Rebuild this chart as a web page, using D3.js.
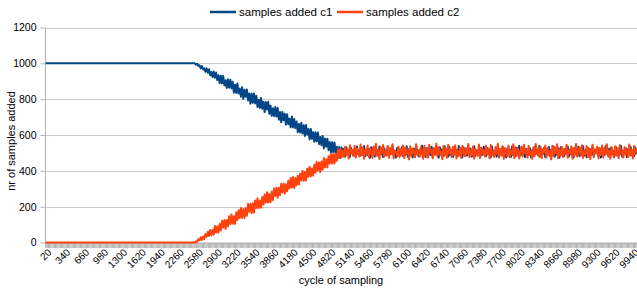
<!DOCTYPE html>
<html>
<head>
<meta charset="utf-8">
<script src="https://cdn.jsdelivr.net/npm/d3@7"></script>
<style>
    body { margin: 0; background: #fff; }
    text { font-family: 'Liberation Sans', Arial, sans-serif; fill: #000; }
</style>
</head>
<body>
<svg id="chart" width="637" height="291"></svg>
<script>
// cycles 20, 40, ... 10000 (one category per sample)
const cycles = d3.range(20, 10001, 20);

const xTickLabels = ['20', '340', '660', '980', '1300', '1620', '1940', '2260', '2580', '2900',
    '3220', '3540', '3860', '4180', '4500', '4820', '5140', '5460', '5780', '6100', '6420',
    '6740', '7060', '7380', '7700', '8020', '8340', '8660', '8980', '9300', '9620', '9940'];
const yTicks = [0, 200, 400, 600, 800, 1000, 1200];
const seriesNames = ['samples added c1', 'samples added c2'];

// c1 before the switch
const c1Flat = [
    1000, 1000, 1000, 1000, 1000, 1000, 1000, 1000, 1000, 1000, 1000, 1000, 1000, 1000, 1000, 1000, 1000, 1000,
    1000, 1000, 1000, 1000, 1000, 1000, 1000, 1000, 1000, 1000, 1000, 1000, 1000, 1000, 1000, 1000, 1000, 1000,
    1000, 1000, 1000, 1000, 1000, 1000, 1000, 1000, 1000, 1000, 1000, 1000, 1000, 1000, 1000, 1000, 1000, 1000,
    1000, 1000, 1000, 1000, 1000, 1000, 1000, 1000, 1000, 1000, 1000, 1000, 1000, 1000, 1000, 1000, 1000, 1000,
    1000, 1000, 1000, 1000, 1000, 1000, 1000, 1000, 1000, 1000, 1000, 1000, 1000, 1000, 1000, 1000, 1000, 1000,
    1000, 1000, 1000, 1000, 1000, 1000, 1000, 1000, 1000, 1000, 1000, 1000, 1000, 1000, 1000, 1000, 1000, 1000,
    1000, 1000, 1000, 1000, 1000, 1000, 1000, 1000, 1000, 1000, 1000, 1000, 1000, 1000, 1000, 1000, 1000, 1000];
// c1 while it falls (cycles 2540 - 5020)
const c1Fall = [
    1000, 992, 998, 986, 989, 972, 985, 966, 972, 953,
    972, 947, 967, 934, 952, 923, 954, 919, 949, 907,
    933, 890, 931, 889, 930, 877, 906, 863, 911, 864,
    909, 860, 897, 836, 881, 835, 888, 831, 859, 814,
    867, 802, 852, 813, 854, 793, 832, 775, 831, 780,
    832, 776, 819, 756, 795, 751, 806, 746, 786, 728,
    784, 742, 785, 718, 764, 707, 749, 705, 756, 703,
    751, 685, 728, 671, 729, 682, 718, 658, 716, 660,
    691, 643, 703, 642, 689, 639, 675, 616, 662, 614,
    669, 608, 655, 595, 656, 602, 633, 575, 634, 579,
    616, 562, 616, 565, 614, 549, 589, 543, 595, 525,
    580, 535, 579, 515, 561, 503, 560, 505, 558, 501,
    534, 485, 533, 472, 530];
// c1 after both settle (cycles 5040 - 10000), mostly hidden under c2
const c1Level = [
    492, 523, 479, 531, 498, 514, 476, 528, 503, 486,
    519, 478, 536, 494, 513, 485, 530, 490, 538, 482,
    509, 488, 522, 473, 532, 497, 516, 480, 528, 500,
    483, 536, 493, 519, 477, 525, 505, 488, 534, 479,
    515, 495, 539, 484, 511, 474, 529, 500, 521, 489,
    532, 481, 508, 491, 537, 478, 522, 496, 513, 475,
    525, 486, 535, 502, 482, 518, 494, 540, 485, 512,
    477, 528, 497, 516, 488, 535, 479, 510, 492, 524,
    503, 473, 531, 490, 521, 483, 537, 495, 514, 479,
    534, 487, 510, 477, 527, 499, 516, 482, 538, 493,
    517, 476, 530, 491, 507, 485, 533, 497, 523, 480,
    494, 537, 484, 513, 500, 526, 474, 520, 489, 534,
    510, 481, 528, 494, 516, 476, 536, 488, 512, 498,
    479, 531, 503, 521, 485, 534, 491, 508, 475, 525,
    499, 519, 477, 537, 488, 515, 482, 529, 496, 540,
    485, 510, 492, 532, 477, 522, 501, 490, 527, 476,
    516, 483, 535, 497, 509, 487, 538, 480, 519, 493,
    528, 476, 513, 500, 533, 484, 517, 491, 536, 479,
    506, 489, 525, 473, 531, 495, 513, 482, 522, 497,
    536, 479, 516, 491, 511, 475, 529, 500, 488, 534,
    482, 523, 494, 537, 486, 514, 476, 527, 498, 519,
    491, 535, 478, 510, 502, 530, 483, 520, 474, 532,
    515, 488, 537, 497, 522, 480, 528, 493, 512, 476,
    496, 531, 485, 517, 491, 539, 479, 510, 499, 526,
    477, 521, 489, 535, 503, 513, 481, 531, 494];

const c2Flat = [
    0, 0, 0, 0, 0, 0, 0, 0, 0, 0, 0, 0, 0, 0, 0, 0, 0, 0,
    0, 0, 0, 0, 0, 0, 0, 0, 0, 0, 0, 0, 0, 0, 0, 0, 0, 0,
    0, 0, 0, 0, 0, 0, 0, 0, 0, 0, 0, 0, 0, 0, 0, 0, 0, 0,
    0, 0, 0, 0, 0, 0, 0, 0, 0, 0, 0, 0, 0, 0, 0, 0, 0, 0,
    0, 0, 0, 0, 0, 0, 0, 0, 0, 0, 0, 0, 0, 0, 0, 0, 0, 0,
    0, 0, 0, 0, 0, 0, 0, 0, 0, 0, 0, 0, 0, 0, 0, 0, 0, 0,
    0, 0, 0, 0, 0, 0, 0, 0, 0, 0, 0, 0, 0, 0, 0, 0, 0, 0];
const c2Rise = [
    0, 7, 3, 19, 12, 29, 14, 34, 19, 47,
    32, 60, 36, 70, 41, 70, 44, 92, 56, 90,
    55, 104, 67, 121, 83, 126, 75, 126, 90, 146,
    103, 157, 104, 147, 104, 168, 125, 180, 137, 192,
    137, 187, 137, 192, 149, 215, 172, 216, 164, 219,
    167, 235, 193, 247, 192, 234, 195, 254, 212, 268,
    223, 281, 223, 270, 224, 285, 237, 301, 260, 306,
    250, 306, 265, 328, 280, 329, 273, 325, 285, 345,
    302, 360, 307, 365, 304, 360, 319, 373, 324, 384,
    347, 401, 344, 394, 346, 412, 367, 423, 369, 413,
    373, 435, 389, 450, 401, 447, 393, 452, 406, 471,
    419, 465, 419, 482, 441, 494, 440, 494, 441, 496,
    457, 520, 471, 525, 476];
const c2Level = [
    512, 478, 534, 489, 521, 470, 543, 497, 515, 482,
    538, 474, 526, 501, 480, 547, 488, 529, 468, 519,
    495, 541, 476, 523, 509, 472, 536, 490, 551, 484,
    517, 466, 532, 498, 544, 479, 511, 486, 539, 473,
    527, 492, 548, 469, 514, 503, 481, 535, 476, 520,
    487, 542, 471, 530, 496, 518, 464, 537, 483, 524,
    507, 475, 549, 491, 513, 478, 533, 499, 467, 540,
    485, 522, 474, 545, 502, 516, 470, 528, 489, 552,
    479, 531, 494, 510, 465, 538, 486, 525, 473, 546,
    498, 519, 477, 534, 490, 543, 469, 512, 484, 529,
    472, 540, 505, 481, 526, 493, 550, 476, 518, 488,
    536, 468, 521, 500, 483, 547, 474, 530, 496, 515,
    480, 539, 491, 524, 470, 544, 487, 509, 477, 533,
    495, 551, 473, 520, 486, 537, 466, 527, 501, 482,
    541, 476, 514, 492, 548, 471, 531, 485, 523, 469,
    506, 535, 480, 545, 497, 517, 474, 538, 489, 511,
    467, 529, 483, 550, 494, 522, 478, 536, 471, 519,
    503, 542, 475, 526, 488, 511, 464, 540, 482, 532,
    497, 548, 470, 518, 485, 534, 477, 523, 492, 545,
    473, 514, 499, 537, 468, 528, 487, 550, 479, 516,
    530, 484, 543, 472, 509, 493, 539, 476, 525, 466,
    513, 546, 481, 521, 498, 535, 470, 527, 488, 541,
    475, 518, 494, 549, 483, 512, 467, 533, 501, 479,
    537, 486, 524, 471, 544, 496, 510, 474, 531, 490,
    520, 477, 547, 485, 515, 469, 538, 492, 526];

const c1 = c1Flat.concat(c1Fall, c1Level);
const c2 = c2Flat.concat(c2Rise, c2Level);
const colors = ['#004586', '#ff420e'];

const W = 637;
const H = 291;
const plotL = 45;
const plotR = 637;
const plotT = 27.5;
const plotB = 242.5;

const svg = d3.select('#chart');
svg.append('rect').attr('width', W).attr('height', H).attr('fill', '#fff');

const x = d3.scalePoint().domain(cycles).range([plotL, plotR]).padding(0.5);
const y = d3.scaleLinear().domain([0, 1200]).range([plotB, plotT]);

// horizontal grid
svg.append('g')
    .selectAll('line')
    .data(yTicks)
    .enter().append('line')
    .attr('x1', plotL).attr('x2', plotR)
    .attr('y1', (d) => Math.round(y(d)) + 0.5)
    .attr('y2', (d) => Math.round(y(d)) + 0.5)
    .attr('stroke', '#cccccc');

// y axis
const yAxis = svg.append('g')
    .attr('transform', `translate(${plotL + 0.5},0)`)
    .call(d3.axisLeft(y).tickValues(yTicks).tickFormat(d3.format('d')).tickSize(5).tickPadding(4));
yAxis.select('.domain').attr('stroke', '#b3b3b3').attr('d', `M0,${plotT}V${plotB + 5}`);
yAxis.selectAll('.tick line').attr('stroke', '#b3b3b3');
yAxis.selectAll('.tick text')
    .style('font-size', '10.5px')
    .style('font-family', 'Liberation Sans, Arial, sans-serif')
    .attr('fill', '#000');

// x axis: one tick per category, labels every 16th
const xAxis = svg.append('g')
    .attr('transform', `translate(0,${plotB + 0.5})`)
    .call(d3.axisBottom(x).tickSize(5).tickFormat(''));
xAxis.select('.domain').attr('stroke', '#b3b3b3').attr('d', `M${plotL},0H${plotR}`);
xAxis.selectAll('.tick line').attr('stroke', '#b3b3b3');

svg.append('g')
    .selectAll('text')
    .data(xTickLabels)
    .enter().append('text')
    .attr('transform', (d) => `translate(${x(+d) + 4},${plotB + 8}) rotate(-45)`)
    .attr('text-anchor', 'end')
    .attr('dy', '0.35em')
    .style('font-size', '10px')
    .text((d) => d);

// series
const line = d3.line()
    .x((d, i) => x(cycles[i]))
    .y((d) => y(d));
[c1, c2].forEach((values, i) => {
    svg.append('path')
        .datum(values)
        .attr('d', line)
        .attr('fill', 'none')
        .attr('stroke', colors[i])
        .attr('stroke-width', 2)
        .attr('stroke-linejoin', 'round');
});

// axis titles
svg.append('text')
    .attr('transform', `translate(15,${(plotT + plotB) / 2 + 6}) rotate(-90)`)
    .attr('text-anchor', 'middle')
    .style('font-size', '11px')
    .text('nr of samples added');
svg.append('text')
    .attr('x', (plotL + plotR) / 2)
    .attr('y', 284)
    .attr('text-anchor', 'middle')
    .style('font-size', '11px')
    .text('cycle of sampling');

// legend
const legendX = [210, 337];
const legend = svg.append('g')
    .selectAll('g')
    .data(seriesNames)
    .enter().append('g')
    .attr('transform', (d, i) => `translate(${legendX[i]},12)`);
legend.append('line')
    .attr('x1', 0).attr('x2', 26)
    .attr('stroke', (d, i) => colors[i])
    .attr('stroke-width', 2.5);
legend.append('text')
    .attr('x', 29)
    .attr('dy', '0.35em')
    .style('font-size', '11.5px')
    .text((d) => d);
</script>
</body>
</html>
